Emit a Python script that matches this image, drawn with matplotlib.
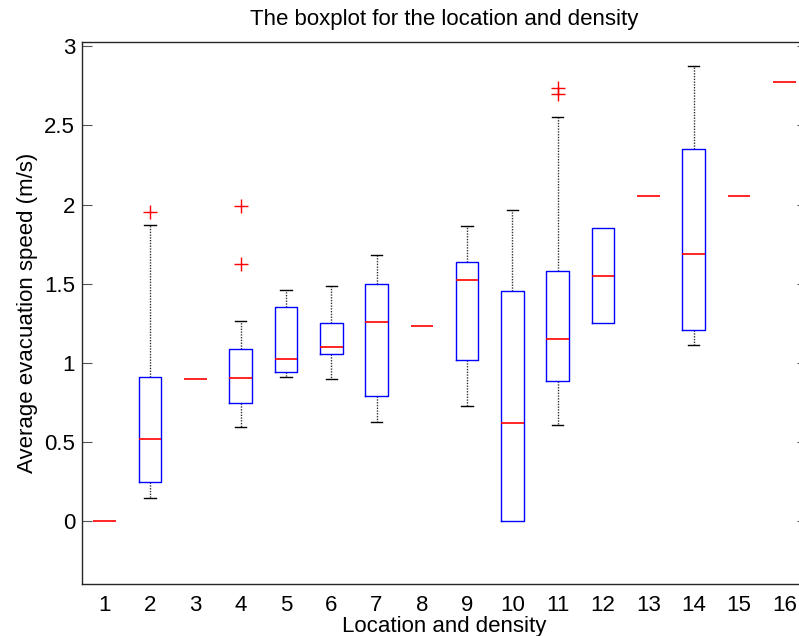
import matplotlib
matplotlib.use("Agg")
import matplotlib.pyplot as plt

positions = list(range(1, 17))
whislo = [0.0, 0.145, 0.898, 0.59, 0.909, 0.898, 0.624, 1.233, 0.727, 0.0, 0.605, 1.248, 2.054, 1.109, 2.054, 2.772]
q1     = [0.0, 0.247, 0.898, 0.742, 0.94, 1.052, 0.789, 1.233, 1.016, 0.0, 0.881, 1.248, 2.054, 1.208, 2.054, 2.772]
med    = [0.0, 0.517, 0.898, 0.904, 1.02, 1.10, 1.257, 1.233, 1.524, 0.616, 1.151, 1.55, 2.054, 1.687, 2.054, 2.772]
q3     = [0.0, 0.91, 0.898, 1.088, 1.349, 1.25, 1.499, 1.233, 1.636, 1.45, 1.579, 1.849, 2.054, 2.351, 2.054, 2.772]
whishi = [0.0, 1.868, 0.898, 1.263, 1.459, 1.484, 1.68, 1.233, 1.862, 1.963, 2.551, 1.849, 2.054, 2.874, 2.054, 2.772]
fliers = [[], [1.95], [], [1.988, 1.624], [], [], [], [], [], [], [2.735, 2.70], [], [], [], [], []]
xlabels = [str(i) for i in positions]
yticks = [0, 0.5, 1, 1.5, 2, 2.5, 3]
yticklabels = ["0", "0.5", "1", "1.5", "2", "2.5", "3"]

plt.rcParams['font.family'] = ['Liberation Sans', 'DejaVu Sans']

fig = plt.figure(figsize=(7.99, 6.36), dpi=100)
W, H = 799, 636
left, right, top, bottom = 82, 807, 42, 584
ax = fig.add_axes([left / W, 1 - bottom / H, (right - left) / W, (bottom - top) / H])

stats = []
for i in range(16):
    stats.append(dict(whislo=whislo[i], q1=q1[i], med=med[i], q3=q3[i],
                      whishi=whishi[i], fliers=fliers[i]))

art = ax.bxp(stats, positions=positions, widths=0.5, capwidths=0.25,
             boxprops=dict(color='#0000ff', linewidth=1.0, zorder=3),
             whiskerprops=dict(color='#333333', linestyle=(0, (1, 1)), linewidth=1.0, zorder=2),
             capprops=dict(color='black', linewidth=1.0, zorder=2),
             medianprops=dict(color='#ff0000', linewidth=1.2, zorder=5),
             flierprops=dict(marker='+', markeredgecolor='#ff0000', markersize=10,
                             markeredgewidth=1.0, linestyle='none'))

# degenerate parts: single-value groups show only the red median line,
# whiskers that coincide with the box edge are not shown
for i in range(16):
    if q1[i] == q3[i]:
        art['boxes'][i].set_visible(False)
    if whislo[i] == q1[i]:
        art['caps'][2 * i].set_visible(False)
    if whishi[i] == q3[i]:
        art['caps'][2 * i + 1].set_visible(False)

ax.set_xlim(0.5, 16.5)
ax.set_ylim(-0.4, 3.028)
ax.set_xticks(positions)
ax.set_xticklabels(xlabels)
ax.set_yticks(yticks)
ax.set_yticklabels(yticklabels)
ax.tick_params(axis='x', length=0, pad=8, labelsize=16)
ax.tick_params(axis='y', direction='in', length=7, color='#555555', labelsize=16,
               right=True, pad=5)
for s in ax.spines.values():
    s.set_color('#262626')
    s.set_linewidth(1.0)

ax.set_title("The boxplot for the location and density", fontsize=16, pad=12)
ax.set_xlabel("Location and density", fontsize=16, labelpad=0)
ax.set_ylabel("Average evacuation speed (m/s)", fontsize=16, labelpad=4)

fig.savefig("out.png", dpi=100)
